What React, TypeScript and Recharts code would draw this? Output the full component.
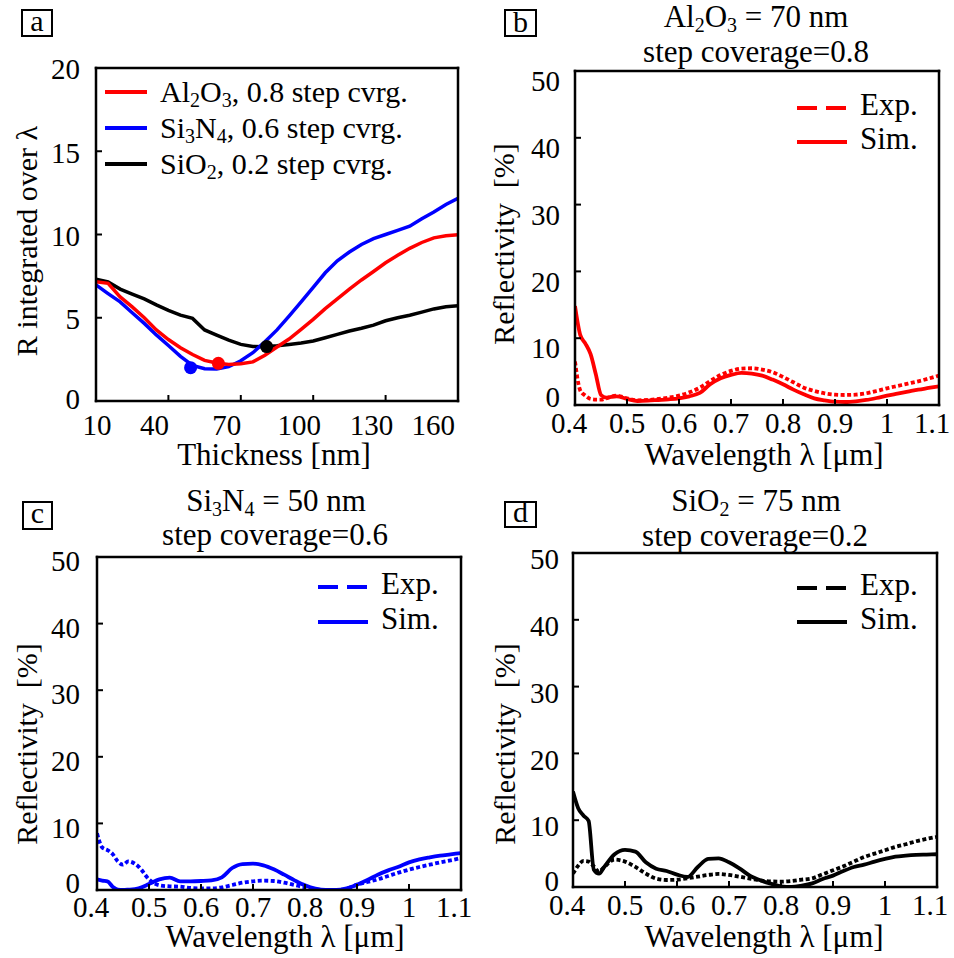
import React from 'react';
import { LineChart, Line, XAxis, YAxis, ReferenceDot } from 'recharts';

const FONT = "'Liberation Serif', 'Times New Roman', Times, serif";
const RED = '#ff0000';
const BLUE = '#0000ff';
const BLACK = '#000000';

// (a) reflectance integrated over wavelength vs. layer thickness
const thickness = [10, 15, 20, 25, 30, 35, 40, 45, 50, 55, 60, 65, 70, 75, 80, 85, 90, 95, 100, 105, 110, 115, 120, 125, 130, 135, 140, 145, 150, 155, 160];
const rAl2O3 = [7.17, 7.07, 6.25, 5.65, 5.0, 4.27, 3.69, 3.2, 2.79, 2.44, 2.28, 2.19, 2.24, 2.35, 2.75, 3.24, 3.72, 4.3, 4.9, 5.55, 6.13, 6.72, 7.27, 7.78, 8.3, 8.75, 9.17, 9.52, 9.8, 9.93, 9.98];
const rSi3N4 = [6.97, 6.45, 5.95, 5.3, 4.66, 3.97, 3.33, 2.68, 2.14, 1.94, 1.92, 2.06, 2.42, 2.9, 3.56, 4.27, 5.1, 5.95, 6.82, 7.7, 8.42, 8.95, 9.4, 9.75, 10.0, 10.25, 10.5, 10.95, 11.35, 11.8, 12.18];
const rSiO2 = [7.31, 7.15, 6.72, 6.42, 6.13, 5.77, 5.44, 5.16, 4.96, 4.27, 3.96, 3.65, 3.4, 3.28, 3.26, 3.32, 3.4, 3.48, 3.6, 3.8, 4.0, 4.2, 4.37, 4.56, 4.82, 5.0, 5.15, 5.34, 5.53, 5.66, 5.72];
// chosen thickness markers (Al2O3, Si3N4, SiO2)
const optThickness = [60.7, 49.2, 80.7];
const optR = [2.26, 2.0, 3.27];

const thicknessTicks = [10, 40, 70, 100, 130, 160];
const rTicks = [0, 5, 10, 15, 20];

// (b)-(d) reflectivity spectra
const wavelength = [0.4, 0.41, 0.42, 0.43, 0.44, 0.45, 0.46, 0.48, 0.5, 0.52, 0.54, 0.56, 0.58, 0.6, 0.62, 0.64, 0.66, 0.68, 0.7, 0.72, 0.74, 0.76, 0.78, 0.8, 0.82, 0.84, 0.86, 0.88, 0.9, 0.92, 0.94, 0.96, 0.98, 1.0, 1.02, 1.04, 1.06, 1.08, 1.1];
const al2o3Exp = [6.5, 2.2, 1.4, 0.9, 0.8, 0.8, 1.0, 1.4, 1.0, 0.7, 0.75, 0.9, 1.1, 1.4, 1.9, 2.6, 3.6, 4.5, 5.1, 5.45, 5.5, 5.3, 4.9, 4.2, 3.4, 2.6, 2.1, 1.75, 1.55, 1.5, 1.55, 1.75, 2.1, 2.5, 2.85, 3.2, 3.55, 3.95, 4.4];
const al2o3Sim = [14.8, 10.5, 9.2, 7.6, 4.6, 1.5, 1.1, 1.3, 0.9, 0.6, 0.65, 0.75, 0.85, 1.0, 1.3, 1.8, 3.1, 4.0, 4.5, 4.8, 4.7, 4.4, 3.8, 3.1, 2.3, 1.6, 1.0, 0.7, 0.5, 0.45, 0.55, 0.75, 1.05, 1.4, 1.7, 2.0, 2.3, 2.55, 2.8];
const si3n4Exp = [8.5, 6.4, 6.0, 5.4, 4.3, 3.8, 4.3, 3.5, 1.6, 0.7, 0.55, 0.5, 0.3, 0.25, 0.25, 0.4, 0.75, 1.1, 1.3, 1.4, 1.35, 1.1, 0.75, 0.4, 0.1, 0, 0, 0.2, 0.8, 1.2, 1.6, 2.1, 2.6, 3.05, 3.45, 3.8, 4.15, 4.45, 4.8];
const si3n4Sim = [1.6, 1.4, 1.3, 0.5, 0.05, 0, 0.05, 0.25, 0.9, 1.6, 1.85, 1.3, 1.3, 1.35, 1.45, 1.9, 3.3, 3.9, 3.95, 3.7, 3.1, 2.3, 1.45, 0.7, 0.2, 0, 0, 0.25, 0.8, 1.5, 2.3, 2.95, 3.5, 4.15, 4.6, 4.9, 5.15, 5.35, 5.55];
const sio2Exp = [2.0, 3.2, 3.9, 3.8, 3.1, 2.3, 3.0, 4.1, 3.8, 3.0, 2.0, 1.25, 1.05, 1.1, 1.3, 1.55, 1.8, 1.95, 1.8, 1.55, 1.25, 1.0, 0.85, 0.8, 0.9, 1.1, 1.3, 1.9, 2.5, 3.1, 3.8, 4.5, 5.0, 5.5, 6.0, 6.4, 6.85, 7.2, 7.5];
const sio2Sim = [14.3, 11.8, 10.7, 9.9, 2.6, 2.0, 3.0, 4.9, 5.55, 5.3, 3.7, 2.75, 2.4, 1.85, 1.5, 3.0, 4.2, 4.3, 3.7, 2.8, 1.7, 1.0, 0.5, 0.1, 0, 0.2, 0.55, 1.2, 1.7, 2.4, 3.0, 3.35, 3.8, 4.2, 4.55, 4.7, 4.8, 4.85, 4.9];

const wlTicks = [0.4, 0.5, 0.6, 0.7, 0.8, 0.9, 1, 1.1];
const reflTicks = [0, 10, 20, 30, 40, 50];

type Box = {
  left: number; top: number; width: number; height: number;
  x0: number; y0: number; x1: number; y1: number;
};

const boxA: Box = { left: 0, top: 0, width: 477, height: 480, x0: 96, y0: 68, x1: 458, y1: 401 };
const boxB: Box = { left: 477, top: 0, width: 477, height: 480, x0: 575, y0: 71, x1: 939, y1: 405 };
const boxC: Box = { left: 0, top: 480, width: 477, height: 478, x0: 97, y0: 557, x1: 461, y1: 890 };
const boxD: Box = { left: 477, top: 480, width: 477, height: 478, x0: 573, y0: 553, x1: 937, y1: 887 };

const frameLine = { stroke: '#000', strokeWidth: 2.5, strokeLinecap: 'square' as const };
const tickLine = { stroke: '#000', strokeWidth: 2 };

// four axes form the box; ticks point inward (negative tickSize)
function frameAxes(box: Box, xKey: string, xDomain: number[], xTicks: number[], yDomain: number[], yTicks: number[],
  xMargin: number, yMargin: number, xTick: any, yTick: any) {
  return [
    <XAxis key="xb" xAxisId="b" dataKey={xKey} type="number" domain={xDomain} ticks={xTicks}
      height={box.top + box.height - box.y1} axisLine={frameLine} tickLine={tickLine} tickSize={-6}
      tickMargin={xMargin} tick={xTick} interval={0} allowDataOverflow />,
    <XAxis key="xt" xAxisId="t" orientation="top" dataKey={xKey} type="number" domain={xDomain} ticks={xTicks}
      height={1} axisLine={frameLine} tickLine={tickLine} tickSize={-6} tick={false} interval={0} allowDataOverflow />,
    <YAxis key="yl" yAxisId="l" type="number" domain={yDomain} ticks={yTicks} width={box.x0 - box.left}
      axisLine={frameLine} tickLine={tickLine} tickSize={-6} tickMargin={yMargin} tick={yTick} interval={0} allowDataOverflow />,
    <YAxis key="yr" yAxisId="r" orientation="right" type="number" domain={yDomain} ticks={yTicks}
      width={box.left + box.width - box.x1} axisLine={frameLine} tickLine={tickLine} tickSize={-6} tick={false} interval={0} allowDataOverflow />,
  ];
}

// x tick labels: first/last pulled inside like the original figure
function makeXTick(firstDx: number, midDx: number, lastDx: number, lastAnchor: 'middle' | 'end') {
  return function EdgeTick(props: any) {
    const { x, y, payload, index, visibleTicksCount } = props;
    const last = index === visibleTicksCount - 1;
    const first = index === 0;
    const dx = first ? firstDx : last ? lastDx : midDx;
    return (
      <text x={x + dx} y={y} dy="0.71em" textAnchor={last ? lastAnchor : 'middle'}
        fontSize={29} fontFamily={FONT} fill="#000">
        {payload.value}
      </text>
    );
  };
}

// y tick labels: the zero label sits above the corner, others slightly below their tick
function makeYTick(shift: number, zeroShift: number) {
  return function SideTick(props: any) {
    const { x, y, payload } = props;
    const off = payload.value === 0 ? zeroShift : shift;
    return (
      <text x={x} y={y + off} dy="0.355em" textAnchor="end" fontSize={29} fontFamily={FONT} fill="#000">
        {payload.value}
      </text>
    );
  };
}

const ThicknessTick = makeXTick(1, -14, -3, 'end');
const WavelengthTick = makeXTick(-6, 0, -7, 'middle');
const YTickA = makeYTick(1, -2);
const YTickB = makeYTick(10, -8);
const YTickC = makeYTick(4, -7);
const YTickD = makeYTick(6, -6);

function ThicknessPanel() {
  const data = thickness.map((t, i) => ({ t, al: rAl2O3[i], si: rSi3N4[i], sio: rSiO2[i] }));
  const colors = [RED, BLUE, BLACK];
  const b = boxA;
  return (
    <div style={{ position: 'absolute', left: b.left, top: b.top }}>
      <LineChart width={b.width} height={b.height} data={data}
        margin={{ top: b.y0 - b.top - 1, right: 0, bottom: 0, left: 0 }}>
        {frameAxes(b, 't', [10, 160], thicknessTicks, [0, 20], rTicks, 19, 22, <ThicknessTick />, <YTickA />)}
        <Line xAxisId="b" yAxisId="l" dataKey="sio" stroke={BLACK} strokeWidth={3.5} dot={false} isAnimationActive={false} />
        <Line xAxisId="b" yAxisId="l" dataKey="si" stroke={BLUE} strokeWidth={3.5} dot={false} isAnimationActive={false} />
        <Line xAxisId="b" yAxisId="l" dataKey="al" stroke={RED} strokeWidth={3.5} dot={false} isAnimationActive={false} />
        {optThickness.map((t, i) => (
          <ReferenceDot key={i} xAxisId="b" yAxisId="l" x={t} y={optR[i]} r={6.5} fill={colors[i]} stroke="none" />
        ))}
      </LineChart>
    </div>
  );
}

function SpectrumPanel({ box, exp, sim, color, xMargin, yMargin, yTick }: {
  box: Box; exp: number[]; sim: number[]; color: string; xMargin: number; yMargin: number; yTick: any;
}) {
  const data = wavelength.map((w, i) => ({ w, exp: exp[i], sim: sim[i] }));
  return (
    <div style={{ position: 'absolute', left: box.left, top: box.top }}>
      <LineChart width={box.width} height={box.height} data={data}
        margin={{ top: box.y0 - box.top - 1, right: 0, bottom: 0, left: 0 }}>
        {frameAxes(box, 'w', [0.4, 1.1], wlTicks, [0, 50], reflTicks, xMargin, yMargin, <WavelengthTick />, yTick)}
        <Line xAxisId="b" yAxisId="l" type="monotone" dataKey="exp" stroke={color} strokeWidth={3.8}
          strokeDasharray="4 2.5" dot={false} isAnimationActive={false} />
        <Line xAxisId="b" yAxisId="l" type="monotone" dataKey="sim" stroke={color} strokeWidth={3.8}
          dot={false} isAnimationActive={false} />
      </LineChart>
    </div>
  );
}

// text with chemical subscripts: "_2" marks a subscript segment
function Chem({ parts, ...rest }: { parts: string[] } & React.SVGProps<SVGTextElement>) {
  let shifted = false;
  return (
    <text {...rest}>
      {parts.map((p, i) => {
        const sub = p.startsWith('_');
        let dy = 0;
        if (sub && !shifted) { dy = 5; shifted = true; }
        else if (!sub && shifted) { dy = -5; shifted = false; }
        return (
          <tspan key={i} dy={dy} fontSize={sub ? 20 : undefined}>{sub ? p.slice(1) : p}</tspan>
        );
      })}
    </text>
  );
}

function PanelLetter({ x, y, w, h, letter, base }: { x: number; y: number; w: number; h: number; letter: string; base: number }) {
  return (
    <g>
      <rect x={x} y={y} width={w} height={h} fill="#fff" stroke="#000" strokeWidth={2} />
      <text x={x + w / 2} y={base} textAnchor="middle" fontSize={30}>{letter}</text>
    </g>
  );
}

function ExpSimLegend({ x, y1, y2, color }: { x: number; y1: number; y2: number; color: string }) {
  return (
    <g>
      <line x1={x} x2={x + 50} y1={y1} y2={y1} stroke={color} strokeWidth={4} strokeDasharray="20 9" />
      <text x={x + 63} y={y1 + 7} fontSize={31}>Exp.</text>
      <line x1={x} x2={x + 50} y1={y2} y2={y2} stroke={color} strokeWidth={4} />
      <text x={x + 63} y={y2 + 7} fontSize={31}>Sim.</text>
    </g>
  );
}

function Annotations() {
  return (
    <svg width={954} height={958} style={{ position: 'absolute', left: 0, top: 0, pointerEvents: 'none' }}
      fontFamily={FONT} fill="#000">
      <PanelLetter x={22} y={10} w={30} h={26} letter="a" base={31} />
      <PanelLetter x={505} y={10} w={31} h={26} letter="b" base={32} />
      <PanelLetter x={23} y={502} w={29} h={27} letter="c" base={523} />
      <PanelLetter x={505} y={502} w={31} h={25} letter="d" base={522} />

      {/* panel a */}
      <text x={37} y={241} fontSize={30} textAnchor="middle" transform="rotate(-90 37 241)">R integrated over λ</text>
      <text x={274} y={465} fontSize={31} textAnchor="middle">Thickness [nm]</text>
      <line x1={105} x2={147} y1={92} y2={92} stroke={RED} strokeWidth={4} />
      <line x1={105} x2={147} y1={128} y2={128} stroke={BLUE} strokeWidth={4} />
      <line x1={105} x2={147} y1={164} y2={164} stroke={BLACK} strokeWidth={4} />
      <Chem x={160} y={102} fontSize={30} parts={['Al', '_2', 'O', '_3', ', 0.8 step cvrg.']} />
      <Chem x={160} y={138} fontSize={30} parts={['Si', '_3', 'N', '_4', ', 0.6 step cvrg.']} />
      <Chem x={160} y={174} fontSize={30} parts={['SiO', '_2', ', 0.2 step cvrg.']} />

      {/* panel b */}
      <Chem x={756} y={27} fontSize={31} textAnchor="middle" parts={['Al', '_2', 'O', '_3', ' = 70 nm']} />
      <text x={756} y={62} fontSize={31} textAnchor="middle">step coverage=0.8</text>
      <text x={514} y={244} fontSize={30} textAnchor="middle" transform="rotate(-90 514 244)" style={{ whiteSpace: 'pre' }}>Reflectivity  [%]</text>
      <text x={764} y={465} fontSize={31} textAnchor="middle">Wavelength λ [μm]</text>
      <ExpSimLegend x={797} y1={108} y2={142} color={RED} />

      {/* panel c */}
      <Chem x={276} y={511} fontSize={31} textAnchor="middle" parts={['Si', '_3', 'N', '_4', ' = 50 nm']} />
      <text x={275} y={545} fontSize={31} textAnchor="middle">step coverage=0.6</text>
      <text x={37} y={744} fontSize={30} textAnchor="middle" transform="rotate(-90 37 744)" style={{ whiteSpace: 'pre' }}>Reflectivity  [%]</text>
      <text x={285} y={947} fontSize={31} textAnchor="middle">Wavelength λ [μm]</text>
      <ExpSimLegend x={318} y1={587} y2={622} color={BLUE} />

      {/* panel d */}
      <Chem x={756} y={511} fontSize={31} textAnchor="middle" parts={['SiO', '_2', ' = 75 nm']} />
      <text x={755} y={546} fontSize={31} textAnchor="middle">step coverage=0.2</text>
      <text x={515} y={744} fontSize={30} textAnchor="middle" transform="rotate(-90 515 744)" style={{ whiteSpace: 'pre' }}>Reflectivity  [%]</text>
      <text x={764} y={947} fontSize={31} textAnchor="middle">Wavelength λ [μm]</text>
      <ExpSimLegend x={797} y1={588} y2={622} color={BLACK} />
    </svg>
  );
}

export default function App() {
  return (
    <div style={{ position: 'absolute', left: 0, top: 0, width: 954, height: 958, background: '#fff', fontFamily: FONT }}>
      <ThicknessPanel />
      <SpectrumPanel box={boxB} exp={al2o3Exp} sim={al2o3Sim} color={RED} xMargin={13} yMargin={21} yTick={<YTickB />} />
      <SpectrumPanel box={boxC} exp={si3n4Exp} sim={si3n4Sim} color={BLUE} xMargin={12} yMargin={23} yTick={<YTickC />} />
      <SpectrumPanel box={boxD} exp={sio2Exp} sim={sio2Sim} color={BLACK} xMargin={13} yMargin={20} yTick={<YTickD />} />
      <Annotations />
    </div>
  );
}
